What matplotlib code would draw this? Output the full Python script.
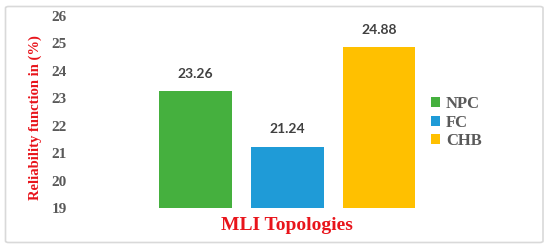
import matplotlib.pyplot as plt
from matplotlib.patches import FancyBboxPatch, Patch

# chart data
topologies = ["NPC", "FC", "CHB"]
reliability = [23.26, 21.24, 24.88]
bar_colors = ["#45B03E", "#1F9BD7", "#FFC000"]
y_ticks = [19, 20, 21, 22, 23, 24, 25, 26]

W, H = 550, 249
fig = plt.figure(figsize=(W / 100, H / 100), dpi=100)

# light gray frame around the chart
frame = FancyBboxPatch((5.5 / W, 6.5 / H), 537.5 / W, 236 / H,
                       boxstyle="round,pad=0,rounding_size=0.006",
                       transform=fig.transFigure, facecolor="none",
                       edgecolor="#D9D9D9", linewidth=1.2, zorder=-1)
fig.patches.append(frame)

# axes placed in pixels: y=19 at 208px, y=26 at 16px
ax = fig.add_axes([75 / W, (H - 208) / H, 345 / W, 192 / H])
ax.patch.set_alpha(0)

xs = list(range(len(topologies)))
bars = ax.bar(xs, reliability, width=0.795, color=bar_colors, bottom=0)
ax.set_ylim(19, 26)
ax.set_xlim(-1.313, 2.447)

for x, v in zip(xs, reliability):
    ax.annotate(f"{v:.2f}", (x, v), xytext=(0, 8), textcoords="offset points",
                ha="center", va="bottom", fontsize=10, fontweight="bold",
                family="Lato", color="#404040")

ax.set_yticks(y_ticks)
ax.set_yticklabels([str(t) for t in y_ticks], family="Liberation Serif",
                   fontweight="bold", fontsize=11, color="#595959")
ax.tick_params(axis="y", length=0, pad=6)
ax.set_xticks([])
for s in ax.spines.values():
    s.set_visible(False)

fig.text(35 / W, (H - 117.5) / H, "Reliability function in (%)", rotation=90,
         ha="center", va="center", family="Liberation Serif",
         fontweight="bold", fontsize=10.5, color="#E8141B")
fig.text(287 / W, (H - 225) / H, "MLI Topologies", ha="center", va="center",
         family="Liberation Serif", fontweight="bold", fontsize=14,
         color="#E8141B")

handles = [Patch(facecolor=c, edgecolor="none") for c in bar_colors]
leg = fig.legend(handles, topologies, loc="upper left",
                 bbox_to_anchor=(431 / W, (H - 96) / H), frameon=False,
                 handlelength=0.55, handleheight=0.55, handletextpad=0.35,
                 labelspacing=0.15, borderaxespad=0, borderpad=0,
                 prop={"family": "Liberation Serif", "weight": "bold",
                       "size": 12})
for t in leg.get_texts():
    t.set_color("#595959")

fig.savefig("out.png", dpi=100)
